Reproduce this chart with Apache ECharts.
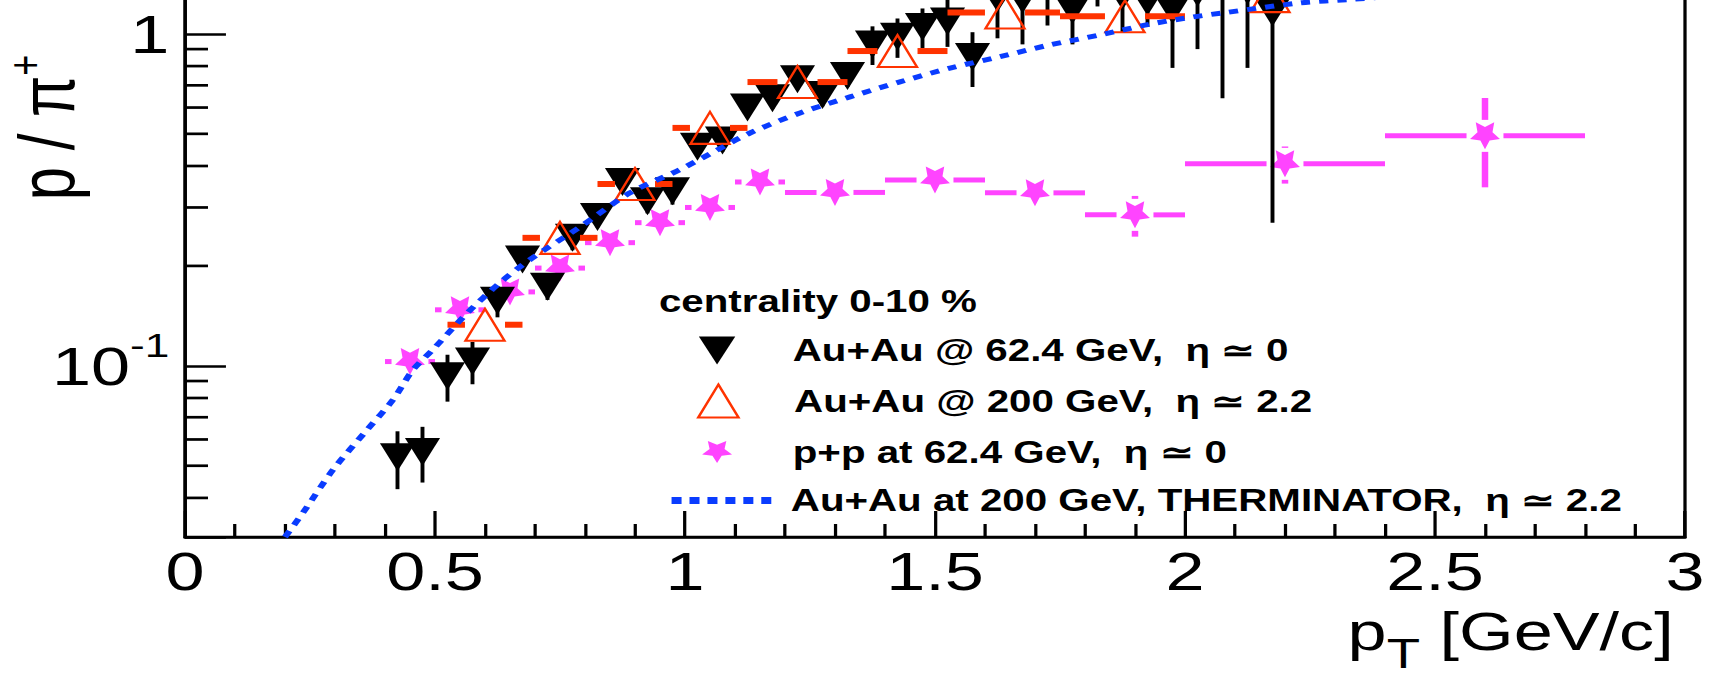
<!DOCTYPE html>
<html><head><meta charset="utf-8">
<script src="https://cdn.jsdelivr.net/npm/echarts@6/dist/echarts.min.js"></script>
<style>
html,body{margin:0;padding:0;background:#fff;overflow:hidden;width:1714px;height:675px}
#wrap{width:1714px;height:675px;overflow:hidden;position:relative;background:#fff}
#chart{width:1318px;height:675px;transform:scaleX(1.300455);transform-origin:0 0}
</style></head><body><div id="wrap"><div id="chart"></div></div>
<script>
// ---- data ----
const auau62Pt = [0.425,0.475,0.525,0.575,0.625,0.675,0.725,0.775,0.825,0.875,0.925,0.975,1.025,1.075,1.125,1.175,1.225,1.275,1.325,1.375,1.425,1.475,1.525,1.575,1.625,1.675,1.725,1.775,1.825,1.875,1.925,1.975,2.025,2.075,2.125,2.175];
const auau62Ratio = [0.053,0.055,0.093,0.103,0.157,0.209,0.173,0.243,0.281,0.358,0.313,0.336,0.457,0.477,0.60,0.64,0.73,0.655,0.747,0.93,0.98,1.05,1.09,0.852,1.28,1.27,1.40,1.18,1.45,1.30,1.25,1.18,1.33,1.50,1.35,1.16];
const auau62Err = [0.0105,0.0105,0.015,0.015,0.017,0.015,0.015,0.02,0.02,0.025,0.025,0.03,0.03,0.035,0.04,0.045,0.05,0.05,0.055,0.124,0.133,0.143,0.176,0.16,0.31,0.34,0.34,0.25,0.24,0.29,0.2,0.39,0.43,0.86,0.56,0.89];

const auau200Pt = [0.6,0.75,0.9,1.05,1.225,1.425,1.64,1.88,2.17];
const auau200Ratio = [0.133,0.243,0.353,0.521,0.716,0.888,1.16,1.13,1.30];
const auau200PtLow = [0.525,0.675,0.825,0.975,1.125,1.325,1.525,1.75,2.0];
const auau200PtHigh = [0.675,0.825,0.975,1.125,1.325,1.525,1.75,2.0,2.35];

const pp62Pt = [0.45,0.55,0.65,0.75,0.85,0.95,1.05,1.15,1.3,1.5,1.7,1.9,2.2,2.6];
const pp62Ratio = [0.103,0.1475,0.167,0.197,0.235,0.27,0.30,0.358,0.333,0.363,0.332,0.285,0.406,0.493];
const pp62Err = [0.006,0.008,0.009,0.01,0.012,0.014,0.016,0.018,0.018,0.02,0.022,0.04,0.052,0.148];
const pp62PtLow = [0.4,0.5,0.6,0.7,0.8,0.9,1.0,1.1,1.2,1.4,1.6,1.8,2.0,2.4];
const pp62PtHigh = [0.5,0.6,0.7,0.8,0.9,1.0,1.1,1.2,1.4,1.6,1.8,2.0,2.4,2.8];

const thermPt = [0.2,0.236,0.296,0.364,0.416,0.456,0.496,0.564,0.63,0.69,0.79,0.89,0.99,1.056,1.13,1.23,1.33,1.43,1.53,1.63,1.73,1.83,1.93,2.016,2.076,2.23,2.33,2.45];
const thermRatio = [0.0305,0.0361,0.0486,0.0641,0.079,0.0973,0.112,0.144,0.178,0.209,0.262,0.332,0.39,0.44,0.503,0.578,0.646,0.717,0.789,0.854,0.927,0.993,1.07,1.125,1.157,1.24,1.27,1.31];

const xTickMin = 0, xTickMax = 3, xTickStep = 0.5;
const yMin = 0.0305, yMax = 2;
const yMinorTicks = [0.04,0.05,0.06,0.07,0.08,0.09,0.2,0.3,0.4,0.5,0.6,0.7,0.8,0.9];

const nameAuAu62 = 'Au+Au @ 62.4 GeV,  \u03b7 \u2243 0';
const nameAuAu200 = 'Au+Au @ 200 GeV,  \u03b7 \u2243 2.2';
const namePP62 = 'p+p at 62.4 GeV,  \u03b7 \u2243 0';
const nameTherm = 'Au+Au at 200 GeV, THERMINATOR,  \u03b7 \u2243 2.2';
const legendTitle = 'centrality 0-10 %';

// ---- styling ----
const FONT = "'Liberation Sans', Arial, Helvetica, sans-serif";
const RED = '#ff3300', PINK = '#ff44ff', BLUE = '#0a3cff';
const TRI_DOWN = 'path://M0 0 L100 0 L50 100 Z';

function starPath() {
  const pts = [];
  for (let i = 0; i < 10; i++) {
    const a = (90 + 36 * i) * Math.PI / 180;
    const r = i % 2 === 0 ? 50 : 25;
    pts.push((50 + r * Math.cos(a)).toFixed(2) + ' ' + (50 + r * Math.sin(a)).toFixed(2));
  }
  return 'path://M' + pts.join(' L') + ' Z';
}
const STAR = starPath();

const chart = echarts.init(document.getElementById('chart'), null, {renderer: 'svg'});

function seg(x1, y1, x2, y2, color, w) {
  return {type: 'line', shape: {x1, y1, x2, y2}, style: {stroke: color, lineWidth: w, lineCap: 'butt'}};
}

const blackErrData = auau62Pt.map((x, i) => [x, auau62Ratio[i], auau62Err[i]]);
const redErrData = auau200Pt.map((x, i) => [x, auau200Ratio[i], auau200PtLow[i], auau200PtHigh[i]]);
const pinkErrData = pp62Pt.map((x, i) => [x, pp62Ratio[i], pp62Err[i], pp62PtLow[i], pp62PtHigh[i]]);

const legendText = {color: '#000', fontSize: 31, fontWeight: 'bold', fontFamily: FONT};
function legendBox(name, left, top, w, h, textPad, extra) {
  return Object.assign({
    orient: 'vertical', left: left, top: top, padding: 0,
    itemWidth: w, itemHeight: h, selectedMode: false,
    data: [name],
    textStyle: Object.assign({padding: [0, 0, 0, textPad]}, legendText)
  }, extra || {});
}

const option = {
  animation: false,
  backgroundColor: '#fff',
  grid: {left: 142.25, right: 22.3, top: -66, bottom: 138, show: true, borderColor: '#000', borderWidth: 2.5, backgroundColor: 'transparent', containLabel: false, outerBoundsMode: 'none'},
  xAxis: {
    type: 'value', min: xTickMin, max: xTickMax, interval: xTickStep,
    axisLine: {show: true, onZero: false, lineStyle: {color: '#000', width: 2.5}},
    axisTick: {show: true, inside: true, length: 26, lineStyle: {color: '#000', width: 2.5}},
    minorTick: {show: true, splitNumber: 5, length: 13, lineStyle: {color: '#000', width: 2.5}},
    splitLine: {show: false}, minorSplitLine: {show: false},
    axisLabel: {color: '#000', fontSize: 54, fontFamily: FONT, margin: 7}
  },
  yAxis: {
    type: 'log', logBase: 10, min: yMin, max: yMax,
    axisLine: {show: true, onZero: false, lineStyle: {color: '#000', width: 2.5}},
    axisTick: {show: true, inside: true, length: 31.5, lineStyle: {color: '#000', width: 2.7}},
    minorTick: {show: false},
    splitLine: {show: false},
    axisLabel: {
      color: '#000', fontSize: 54, fontFamily: FONT, margin: 12,
      formatter: function (v) {
        if (Math.abs(v - 1) < 1e-6) return '1';
        if (Math.abs(v - 0.1) < 1e-7) return '{b|10}{s|-1}';
        return '';
      },
      rich: {
        b: {fontSize: 54, lineHeight: 54, fontFamily: FONT, color: '#000'},
        s: {fontSize: 34, height: 13, verticalAlign: 'top', fontFamily: FONT, color: '#000'}
      }
    }
  },
  legend: [
    legendBox(nameAuAu62, 537.4, 335, 28, 30, 39.2),
    legendBox(nameAuAu200, 535.9, 383.5, 31, 33, 37.7),
    legendBox(namePP62, 539.9, 436.5, 23, 27, 41.7),
    legendBox(nameTherm, 512.9, 485, 77, 30, 9.7,
      {lineStyle: {color: BLUE, width: 7, type: [7.7, 6.1], cap: 'butt'}})
  ],
  graphic: [
    {type: 'text', x: 506.7, y: 301.5, z: 20,
     style: {text: legendTitle, fill: '#000', font: 'bold 31px ' + FONT, verticalAlign: 'middle', align: 'left'}},
    {type: 'text', x: 36, y: 127.5, rotation: Math.PI / 2, z: 20,
     style: {text: '{m|p / \u03c0}{s|+}', fill: '#000', align: 'center', verticalAlign: 'middle',
       rich: {m: {fontSize: 60, lineHeight: 56, fontFamily: FONT, fill: '#000'},
              s: {fontSize: 36, height: 22.4, verticalAlign: 'top', fontFamily: FONT, fill: '#000'}}}},
    {type: 'text', x: 1287, y: 631, z: 20,
     style: {text: '{m|p}{t|T}{m| [GeV/c]}', fill: '#000', align: 'right', verticalAlign: 'middle',
       rich: {m: {fontSize: 54, fontFamily: FONT, fill: '#000'},
              t: {fontSize: 42, verticalAlign: 'bottom', padding: [44, 0, 0, 0], fontFamily: FONT, fill: '#000'}}}}
  ],
  series: [
    { // p+p error bars
      type: 'custom', name: 'ppErr', z: 2, encode: {x: 0, y: 1}, data: pinkErrData,
      renderItem: function (params, api) {
        const x = api.value(0), v = api.value(1), e = api.value(2), lo = api.value(3), hi = api.value(4);
        const c = api.coord([x, v]), l = api.coord([lo, v]), h = api.coord([hi, v]);
        const up = api.coord([x, v + e]), dn = api.coord([x, Math.max(v - e, 1e-4)]);
        const gx = 14.2, gy = 16, kids = [];
        if (l[0] < c[0] - gx) kids.push(seg(l[0], c[1], c[0] - gx, c[1], PINK, 5));
        if (h[0] > c[0] + gx) kids.push(seg(c[0] + gx, c[1], h[0], c[1], PINK, 5));
        if (up[1] < c[1] - gy) kids.push(seg(c[0], up[1], c[0], c[1] - gy, PINK, 5));
        if (dn[1] > c[1] + gy) kids.push(seg(c[0], c[1] + gy, c[0], dn[1], PINK, 5));
        return {type: 'group', children: kids};
      }
    },
    {
      type: 'scatter', name: namePP62, z: 3, symbol: STAR, symbolSize: [23, 27],
      itemStyle: {color: PINK, opacity: 1},
      data: pp62Pt.map((x, i) => [x, pp62Ratio[i]])
    },
    { // Au+Au 62.4 error bars
      type: 'custom', name: 'auau62Err', z: 4, encode: {x: 0, y: 1}, data: blackErrData,
      renderItem: function (params, api) {
        const x = api.value(0), v = api.value(1), e = api.value(2);
        const up = api.coord([x, v + e]), dn = api.coord([x, Math.max(v - e, 1e-4)]);
        return seg(up[0], up[1], dn[0], dn[1], '#000', 3);
      }
    },
    {
      type: 'scatter', name: nameAuAu62, z: 5, symbol: TRI_DOWN, symbolSize: [27, 28],
      itemStyle: {color: '#000', opacity: 1},
      data: auau62Pt.map((x, i) => [x, auau62Ratio[i]])
    },
    { // Au+Au 200 x-error bars
      type: 'custom', name: 'auau200Err', z: 6, encode: {x: 0, y: 1}, data: redErrData,
      renderItem: function (params, api) {
        const x = api.value(0), v = api.value(1), lo = api.value(2), hi = api.value(3);
        const c = api.coord([x, v]), l = api.coord([lo, v]), h = api.coord([hi, v]);
        const gx = 15.4, kids = [];
        if (l[0] < c[0] - gx) kids.push(seg(l[0], c[1], c[0] - gx, c[1], RED, 6));
        if (h[0] > c[0] + gx) kids.push(seg(c[0] + gx, c[1], h[0], c[1], RED, 6));
        return {type: 'group', children: kids};
      }
    },
    {
      type: 'scatter', name: nameAuAu200, z: 7, symbol: 'triangle', symbolSize: [30, 32],
      itemStyle: {color: 'rgba(255,255,255,0)', borderColor: RED, borderWidth: 2, opacity: 1},
      data: auau200Pt.map((x, i) => [x, auau200Ratio[i]])
    },
    {
      type: 'line', name: nameTherm, z: 8, symbol: 'none', smooth: 0.3, clip: true,
      lineStyle: {color: BLUE, width: 5, type: [7, 7], cap: 'butt'},
      itemStyle: {color: 'rgba(0,0,0,0)', borderColor: 'rgba(0,0,0,0)', borderWidth: 0},
      data: thermPt.map((x, i) => [x, thermRatio[i]])
    },
    { // minor ticks of the log axis (2..9 x decade)
      type: 'custom', name: 'yMinor', z: 9, encode: {x: 0, y: 1}, silent: true,
      data: yMinorTicks.map(v => [xTickMin, v]),
      renderItem: function (params, api) {
        const p = api.coord([api.value(0), api.value(1)]);
        return seg(p[0], p[1], p[0] + 17.7, p[1], '#000', 2.7);
      }
    }
  ]
};
chart.setOption(option);
</script>
</body></html>
